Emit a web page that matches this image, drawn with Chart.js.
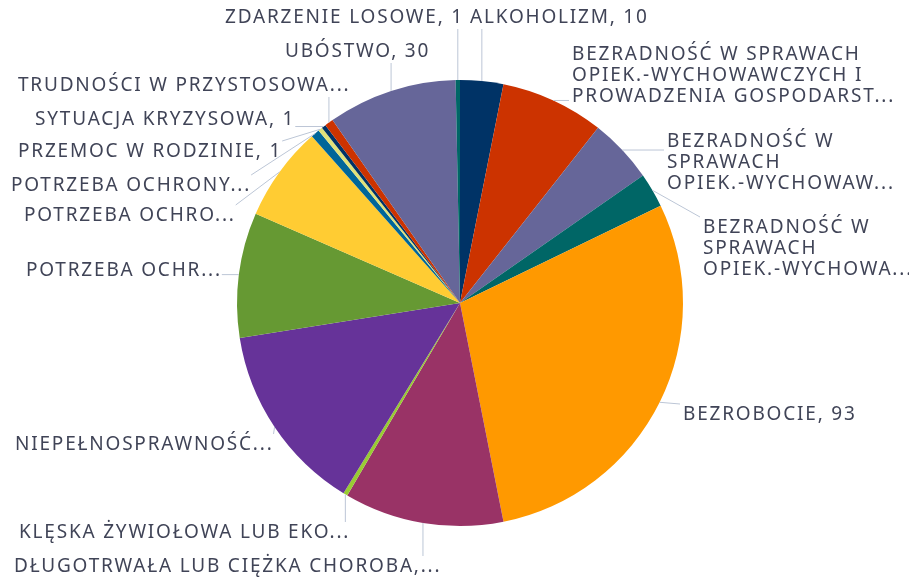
<!DOCTYPE html>
<html>
<head>
<meta charset="utf-8">
<script src="https://cdn.jsdelivr.net/npm/chart.js@4/dist/chart.umd.min.js"></script>
<style>
  html, body { margin: 0; padding: 0; background: #fff; }
  #wrap { width: 909px; height: 577px; }
</style>
</head>
<body>
<div id="wrap"><canvas id="myChart"></canvas></div>
<script>
// categories (as shown, truncated in the original)
const categories = [
    'ALKOHOLIZM',
    'BEZRADNOŚĆ W SPRAWACH OPIEK.-WYCHOWAWCZYCH I PROWADZENIA GOSPODARST...',
    'BEZRADNOŚĆ W SPRAWACH OPIEK.-WYCHOWAW...',
    'BEZRADNOŚĆ W SPRAWACH OPIEK.-WYCHOWA...',
    'BEZROBOCIE',
    'DŁUGOTRWAŁA LUB CIĘŻKA CHOROBA',
    'KLĘSKA ŻYWIOŁOWA LUB EKO...',
    'NIEPEŁNOSPRAWNOŚĆ',
    'POTRZEBA OCHR...',
    'POTRZEBA OCHRO...',
    'POTRZEBA OCHRONY...',
    'PRZEMOC W RODZINIE',
    'SYTUACJA KRYZYSOWA',
    'TRUDNOŚCI W PRZYSTOSOWA...',
    'UBÓSTWO',
    'ZDARZENIE LOSOWE'
];
const values = [10, 24, 15, 8, 93, 37, 1, 44, 29, 22, 2, 1, 1, 2, 30, 1];

// label texts as displayed next to the slices
const labelLines = [
    ['ALKOHOLIZM, 10'],
    ['BEZRADNOŚĆ W SPRAWACH', 'OPIEK.-WYCHOWAWCZYCH I', 'PROWADZENIA GOSPODARST...'],
    ['BEZRADNOŚĆ W', 'SPRAWACH', 'OPIEK.-WYCHOWAW...'],
    ['BEZRADNOŚĆ W', 'SPRAWACH', 'OPIEK.-WYCHOWA...'],
    ['BEZROBOCIE, 93'],
    ['DŁUGOTRWAŁA LUB CIĘŻKA CHOROBA,...'],
    ['KLĘSKA ŻYWIOŁOWA LUB EKO...'],
    ['NIEPEŁNOSPRAWNOŚĆ...'],
    ['POTRZEBA OCHR...'],
    ['POTRZEBA OCHRO...'],
    ['POTRZEBA OCHRONY...'],
    ['PRZEMOC W RODZINIE, 1'],
    ['SYTUACJA KRYZYSOWA, 1'],
    ['TRUDNOŚCI W PRZYSTOSOWA...'],
    ['UBÓSTWO, 30'],
    ['ZDARZENIE LOSOWE, 1']
];

const colors = [
    '#003366', '#CC3300', '#666699', '#006666', '#FF9900', '#993366',
    '#99CC33', '#663399', '#669933', '#FFCC33', '#006699', '#E0E27A',
    '#003366', '#CC3300', '#666699', '#006666'
];

// where each label block sits (left x, centre y of first line)
const labelPos = [
    [470, 18], [572, 55], [667, 142], [703, 228], [683, 415], [14, 567],
    [19, 533], [15, 445], [26, 271], [24, 216], [11, 186], [18, 152],
    [35, 120], [18, 86], [285, 52], [225, 18]
];

const lineH = 21;
const labelFont = '19px "Noto Sans"';

const outsideLabels = {
    id: 'outsideLabels',
    afterDatasetsDraw(chart) {
        const ctx = chart.ctx;
        const arcs = chart.getDatasetMeta(0).data;
        ctx.save();
        ctx.font = labelFont;
        ctx.letterSpacing = '1.8px';
        ctx.textBaseline = 'middle';
        ctx.textAlign = 'left';
        arcs.forEach((arc, i) => {
            const lines = labelLines[i];
            const [lx, ly] = labelPos[i];
            let w = 0;
            lines.forEach(t => { w = Math.max(w, ctx.measureText(t).width); });
            const box = { l: lx - 3, r: lx + w, t: ly - 11, b: ly + (lines.length - 1) * lineH + 11 };
            const mid = (arc.startAngle + arc.endAngle) / 2;
            const px = arc.x + Math.cos(mid) * arc.outerRadius;
            const py = arc.y + Math.sin(mid) * arc.outerRadius;
            const qx = Math.min(Math.max(px, box.l), box.r);
            const qy = Math.min(Math.max(py, box.t), box.b);
            ctx.strokeStyle = '#BCC6D6';
            ctx.lineWidth = 1;
            ctx.beginPath();
            ctx.moveTo(px, py);
            ctx.lineTo(qx, qy);
            ctx.stroke();
            ctx.fillStyle = '#404457';
            lines.forEach((t, k) => ctx.fillText(t, lx, ly + k * lineH));
        });
        ctx.restore();
    }
};

new Chart('myChart', {
    type: 'pie',
    data: {
        labels: categories,
        datasets: [{
            data: values,
            backgroundColor: colors,
            borderWidth: 0
        }]
    },
    options: {
        responsive: true,
        maintainAspectRatio: false,
        animation: false,
        layout: { padding: { left: 237, right: 226, top: 80, bottom: 51 } },
        plugins: {
            legend: { display: false },
            tooltip: { enabled: false }
        }
    },
    plugins: [outsideLabels]
});
</script>
</body>
</html>
